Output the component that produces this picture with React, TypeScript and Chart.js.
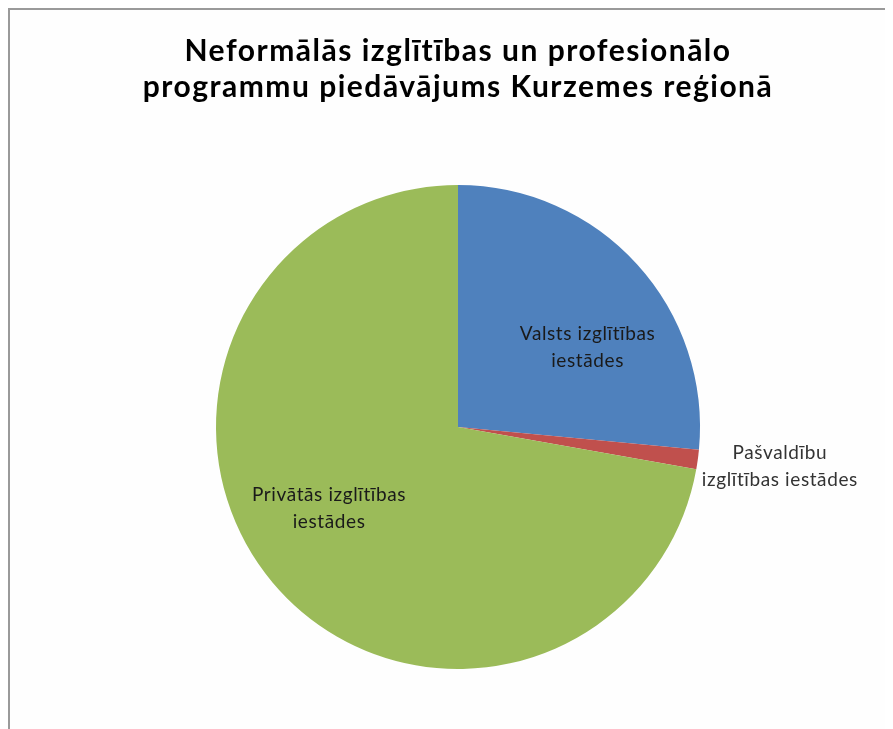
import React, { useEffect, useRef } from "react";
import { Chart, registerables } from "chart.js";

Chart.register(...registerables);

const categories = [
  "Valsts izglītības iestādes",
  "Pašvaldību izglītības iestādes",
  "Privātās izglītības iestādes",
];
const labelLines = [
  ["Valsts izglītības", "iestādes"],
  ["Pašvaldību", "izglītības iestādes"],
  ["Privātās izglītības", "iestādes"],
];
const values = [26.5, 1.3, 72.2];
const colors = ["#4F81BD", "#C0504D", "#9BBB59"];
const titleLines = [
  "Neformālās izglītības un profesionālo",
  "programmu piedāvājums Kurzemes reģionā",
];

// label placement relative to slice: angle shift (deg) from mid-angle, radius factor
const labelPlacement = [
  { shift: 10.8, r: 0.628 },
  { shift: -0.75, r: 1.34 },
  { shift: 7.7, r: 0.63 },
];

const spacingPlugin = {
  id: "titleSpacing",
  beforeDraw(chart: any) {
    (chart.ctx as any).letterSpacing = "1.5px";
  },
  beforeDatasetsDraw(chart: any) {
    (chart.ctx as any).letterSpacing = "0px";
  },
};

const labelPlugin = {
  id: "sliceLabels",
  afterDatasetsDraw(chart: any) {
    const meta = chart.getDatasetMeta(0);
    const ctx = chart.ctx;
    ctx.save();
    ctx.font = "19px Lato";
    (ctx as any).letterSpacing = "0.6px";
    ctx.textAlign = "center";
    ctx.textBaseline = "middle";
    meta.data.forEach((arc: any, i: number) => {
      const p = arc.getProps(["x", "y", "startAngle", "endAngle", "outerRadius"], true);
      const mid = (p.startAngle + p.endAngle) / 2 + (labelPlacement[i].shift * Math.PI) / 180;
      const rr = p.outerRadius * labelPlacement[i].r;
      const cx = p.x + Math.cos(mid) * rr;
      const cy = p.y + Math.sin(mid) * rr;
      const lines = labelLines[i];
      const lh = 27;
      ctx.fillStyle = i === 1 ? "#333333" : "#1a1a1a";
      lines.forEach((t, k) => {
        ctx.fillText(t, cx, cy + (k - (lines.length - 1) / 2) * lh);
      });
    });
    (ctx as any).letterSpacing = "0px";
    ctx.restore();
  },
};

export default function App() {
  const ref = useRef<HTMLCanvasElement>(null);
  useEffect(() => {
    if (!ref.current) return;
    const chart = new Chart(ref.current, {
      type: "pie",
      data: {
        labels: categories,
        datasets: [
          {
            data: values,
            backgroundColor: colors,
            borderWidth: 0,
          },
        ],
      },
      options: {
        responsive: false,
        animation: false,
        layout: { padding: { top: 0, bottom: 60, left: 0, right: 0 } },
        plugins: {
          legend: { display: false },
          tooltip: { enabled: false },
          title: {
            display: true,
            text: titleLines,
            color: "#000000",
            font: { family: "Lato", size: 30, weight: "bold", lineHeight: 36 / 30 },
            padding: { top: 23, bottom: 80 },
          },
        },
      },
      plugins: [spacingPlugin, labelPlugin],
    });
    return () => chart.destroy();
  }, []);
  return (
    <div
      style={{
        width: 883,
        height: 719,
        borderLeft: "2px solid #9a9a9a",
        borderTop: "2px solid #9a9a9a",
        overflow: "hidden",
        background: "#fefefe",
      }}
    >
      <canvas ref={ref} width={896} height={719} style={{ display: "block" }} />
    </div>
  );
}
